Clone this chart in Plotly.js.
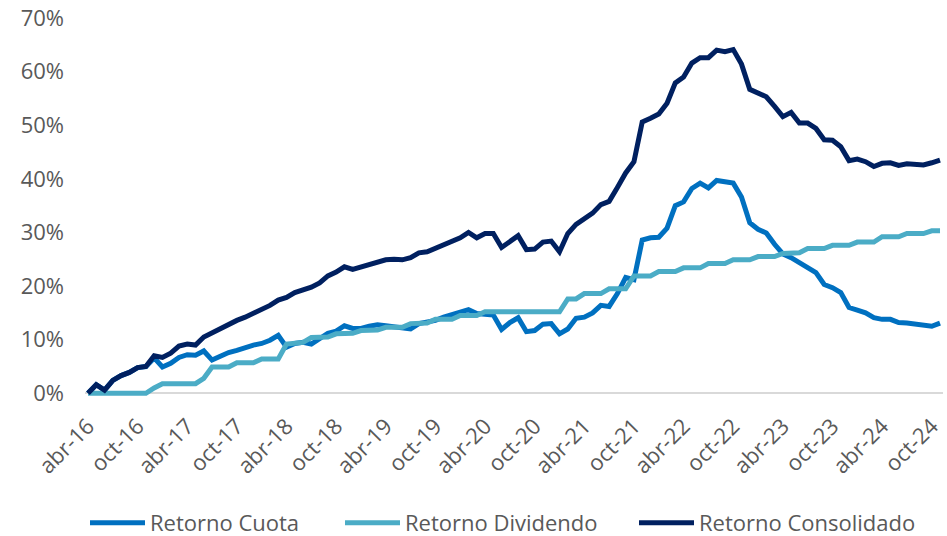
<!DOCTYPE html>
<html>
<head>
<meta charset="utf-8">
<script src="https://cdn.plot.ly/plotly-3.0.1.min.js"></script>
<style>
  html, body { margin: 0; padding: 0; background: #ffffff; }
  #chart { width: 947px; height: 536px; }
</style>
</head>
<body>
<div id="chart"></div>
<script>
// Month names (Spanish) and period: abr-16 .. nov-24
const MONTHS = ['ene','feb','mar','abr','may','jun','jul','ago','sep','oct','nov','dic'];
const START_YEAR = 2016, START_MONTH = 3, N_MONTHS = 104;

// Series values (%), one per month
const retornoCuota = [
  0, 1.6, 0.6, 2.4, 3.3, 3.9, 4.8, 5.0, 6.6, 4.9,
  5.6, 6.7, 7.2, 7.1, 7.9, 6.2, 6.9, 7.6, 8.0, 8.6,
  9.0, 9.3, 9.9, 10.8, 8.6, 9.3, 9.5, 9.2, 10.3, 11.2,
  11.6, 12.6, 12.1, 12.1, 12.5, 12.8, 12.6, 12.4, 12.2, 12.0,
  13.0, 13.3, 13.6, 14.2, 14.7, 15.1, 15.6, 14.9, 14.7, 14.6,
  11.9, 13.2, 14.1, 11.5, 11.7, 12.9, 13.0, 11.1, 12.0, 14.0,
  14.2, 15.0, 16.4, 16.2, 18.6, 21.6, 21.2, 28.6, 29.0, 29.1,
  30.8, 35.0, 35.7, 38.2, 39.2, 38.3, 39.7, 39.5, 39.2, 36.6,
  31.8, 30.6, 29.9, 27.8, 26.0, 25.3, 24.3, 23.5, 22.5, 20.3,
  19.7, 18.8, 16.0, 15.5, 15.0, 14.1, 13.8, 13.8, 13.2, 13.1,
  12.9, 12.7, 12.5, 13.1
];
const retornoDividendo = [
  0, 0, 0, 0, 0, 0, 0, 0, 1.0, 1.8,
  1.8, 1.8, 1.8, 1.8, 2.8, 4.9, 4.9, 4.9, 5.7, 5.7,
  5.7, 6.4, 6.4, 6.4, 9.2, 9.3, 9.5, 10.4, 10.5, 10.5,
  11.1, 11.1, 11.2, 11.7, 11.8, 11.8, 12.3, 12.3, 12.3, 13.0,
  13.1, 13.1, 13.8, 13.8, 13.8, 14.5, 14.5, 14.5, 15.2, 15.2,
  15.2, 15.2, 15.2, 15.2, 15.2, 15.2, 15.2, 15.2, 17.6, 17.6,
  18.6, 18.6, 18.6, 19.5, 19.5, 19.5, 21.9, 21.9, 21.9, 22.7,
  22.7, 22.7, 23.4, 23.4, 23.4, 24.2, 24.2, 24.2, 24.9, 24.9,
  24.9, 25.5, 25.5, 25.5, 26.1, 26.1, 26.2, 27.0, 27.0, 27.0,
  27.6, 27.6, 27.6, 28.2, 28.2, 28.2, 29.2, 29.2, 29.2, 29.8,
  29.8, 29.8, 30.3, 30.3
];
const retornoConsolidado = [
  0, 1.6, 0.6, 2.4, 3.3, 3.9, 4.8, 5.0, 7.0, 6.7,
  7.5, 8.8, 9.2, 9.0, 10.5, 11.3, 12.1, 12.9, 13.6, 14.2,
  14.9, 15.7, 16.4, 17.4, 17.9, 18.8, 19.2, 19.8, 20.6, 21.9,
  22.6, 23.6, 23.1, 23.5, 23.9, 24.4, 24.9, 25.0, 24.9, 25.3,
  26.2, 26.4, 27.1, 27.8, 28.5, 29.0, 30.0, 29.0, 29.8, 29.8,
  27.2, 28.3, 29.4, 26.8, 26.9, 28.2, 28.4, 26.4, 29.8, 31.5,
  32.5, 33.6, 35.2, 35.8, 38.4, 41.1, 43.2, 50.6, 51.3, 52.1,
  54.1, 57.9, 59.0, 61.6, 62.6, 62.6, 64.0, 63.7, 64.1, 61.4,
  56.7, 56.0, 55.3, 53.5, 51.6, 52.4, 50.4, 50.4, 49.4, 47.3,
  47.2, 46.0, 43.4, 43.7, 43.2, 42.3, 42.9, 43.0, 42.5, 42.8,
  42.8, 42.6, 43.0, 43.5
];

const seriesNames = ['Retorno Cuota', 'Retorno Dividendo', 'Retorno Consolidado'];
const yTicks = [0, 10, 20, 30, 40, 50, 60, 70];

// Build month category labels
const months = [];
for (let k = 0; k < N_MONTHS; k++) {
  const m = (START_MONTH + k) % 12;
  const y = START_YEAR + Math.floor((START_MONTH + k) / 12);
  months.push(MONTHS[m] + '-' + String(y).slice(2));
}
// Tick labels every 6 months (abr / oct)
const xTickLabels = months.filter((_, k) => k % 6 === 0);

const colors = ['#0070C0', '#4BACC6', '#002060'];
const values = [retornoCuota, retornoDividendo, retornoConsolidado];
const legendIds = ['legend', 'legend2', 'legend3'];

const traces = values.map((v, k) => ({
  type: 'scatter',
  mode: 'lines',
  x: months,
  y: v,
  name: seriesNames[k],
  legend: legendIds[k],
  line: { color: colors[k], width: 5, shape: 'linear' },
  hoverinfo: 'x+y+name'
}));

const tickFont = { family: 'Open Sans, Noto Sans, sans-serif', size: 22, color: '#595959' };
const legendFont = { family: 'Open Sans, Noto Sans, sans-serif', size: 22, color: '#595959' };

function legendAt(xPos, w) {
  return {
    orientation: 'h',
    xref: 'container',
    yref: 'container',
    x: xPos,
    xanchor: 'left',
    y: 0.0243,
    yanchor: 'middle',
    font: legendFont,
    itemwidth: 55,
    entrywidth: w,
    entrywidthmode: 'pixels',
    borderwidth: 0,
    bgcolor: 'rgba(0,0,0,0)'
  };
}

const layout = {
  width: 947,
  height: 536,
  margin: { l: 85, r: 4, t: 18, b: 140.3, pad: 0, autoexpand: false },
  paper_bgcolor: '#ffffff',
  plot_bgcolor: '#ffffff',
  showlegend: true,
  xaxis: {
    type: 'category',
    automargin: false,
    range: [-0.36, N_MONTHS - 1 + 0.36],
    tickmode: 'array',
    tickvals: xTickLabels,
    ticktext: xTickLabels,
    tickangle: -45,
    tickfont: tickFont,
    showgrid: false,
    showline: false,
    zeroline: false,
    ticks: '',
    ticklabelstandoff: 12
  },
  yaxis: {
    automargin: false,
    range: [-0.5, 70],
    tickmode: 'array',
    tickvals: yTicks,
    ticktext: yTicks.map(t => t + '%'),
    tickfont: tickFont,
    showgrid: false,
    showline: false,
    zeroline: true,
    zerolinecolor: '#d9d9d9',
    zerolinewidth: 2,
    ticks: '',
    ticklabelstandoff: 20
  },
  legend: legendAt(85 / 947, 175),
  legend2: legendAt(340 / 947, 215),
  legend3: legendAt(634 / 947, 235)
};

Plotly.newPlot('chart', traces, layout, { displayModeBar: false, responsive: false });
</script>
</body>
</html>
